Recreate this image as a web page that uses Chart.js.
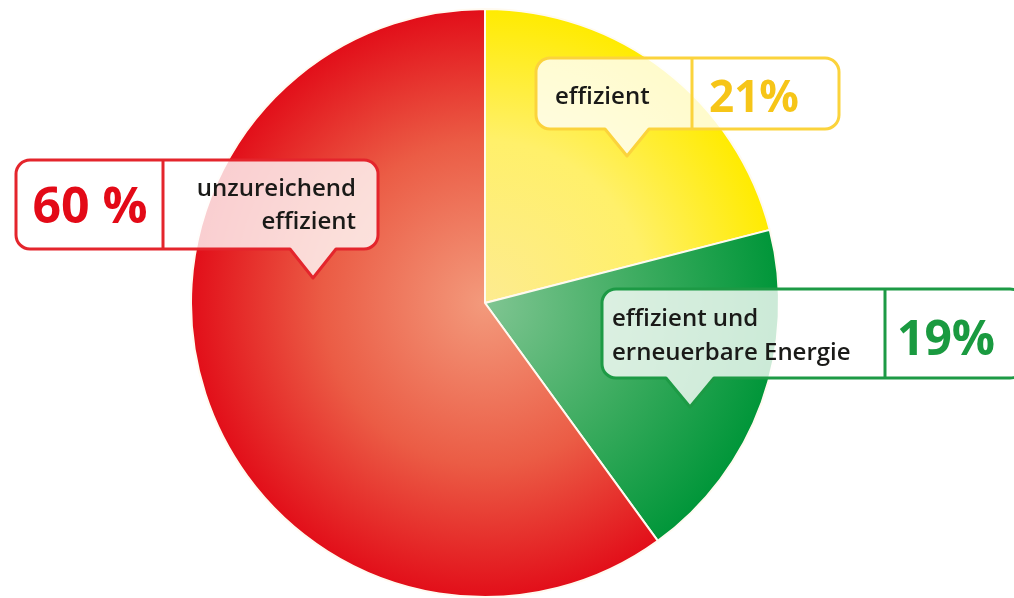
<!DOCTYPE html>
<html>
<head>
<meta charset="utf-8">
<script src="https://cdn.jsdelivr.net/npm/chart.js@4"></script>
<style>
html,body{margin:0;padding:0;background:#fff;}
#wrap{width:1014px;height:598px;position:relative;}
</style>
</head>
<body>
<div id="wrap"><canvas id="c" width="1014" height="598"></canvas></div>
<script>
const categories = ['effizient', 'effizient und erneuerbare Energie', 'unzureichend effizient'];
const shares = [21, 19, 60];
const percentLabels = ['21%', '19%', '60 %'];
const labelLines = [['effizient'], ['effizient und', 'erneuerbare Energie'], ['unzureichend', 'effizient']];

const gradStops = [
  ['#fdeb90', '#fff06a', '#ffeb00'],
  ['#80c592', '#3aab5e', '#009639'],
  ['#f39a7c', '#eb5c45', '#e20e19']
];
const edgeColors = ['#fbd33c', '#1d9a45', '#e4252c'];
const pctColors = ['#f6c518', '#1a9a40', '#e30a17'];

function pieGeom(chart) {
  const a = chart.chartArea;
  return { cx: (a.left + a.right) / 2, cy: (a.top + a.bottom) / 2, r: Math.min(a.right - a.left, a.bottom - a.top) / 2 };
}

function bg(ctx) {
  const chart = ctx.chart;
  const stops = gradStops[ctx.dataIndex];
  if (!chart.chartArea) return stops[2];
  const g = pieGeom(chart);
  const grad = chart.ctx.createRadialGradient(g.cx, g.cy, 0, g.cx, g.cy, g.r);
  grad.addColorStop(0, stops[0]);
  grad.addColorStop(0.55, stops[1]);
  grad.addColorStop(1, stops[2]);
  return grad;
}

// callout layout (box position, divider, pointer)
const callouts = [
  { x: 536, y: 58, w: 303, h: 71, div: 692, px: 627, pw: 44, ph: 27,
    text: { x: 555, align: 'left', base: [104] }, pct: { x: 754, base: 112, size: 44 } },
  { x: 602, y: 289, w: 422, h: 89, div: 885, px: 690, pw: 48, ph: 29,
    text: { x: 612, align: 'left', base: [326, 360] }, pct: { x: 946, base: 355, size: 48 } },
  { x: 16, y: 160, w: 362, h: 89, div: 163, px: 313, pw: 46, ph: 29,
    text: { x: 356, align: 'right', base: [196, 229] }, pct: { x: 90, base: 223, size: 50 } }
];

function calloutPath(c, b) {
  const r = 14;
  const x = b.x, y = b.y, w = b.w, h = b.h;
  c.beginPath();
  c.moveTo(x + r, y);
  c.lineTo(x + w - r, y);
  c.arcTo(x + w, y, x + w, y + r, r);
  c.lineTo(x + w, y + h - r);
  c.arcTo(x + w, y + h, x + w - r, y + h, r);
  c.lineTo(b.px + b.pw / 2, y + h);
  c.lineTo(b.px, y + h + b.ph);
  c.lineTo(b.px - b.pw / 2, y + h);
  c.lineTo(x + r, y + h);
  c.arcTo(x, y + h, x, y + h - r, r);
  c.lineTo(x, y + r);
  c.arcTo(x, y, x + r, y, r);
  c.closePath();
}

const calloutPlugin = {
  id: 'callouts',
  afterDraw(chart) {
    const c = chart.ctx;
    callouts.forEach((b, i) => {
      c.save();
      calloutPath(c, b);
      c.fillStyle = 'rgba(255,255,255,0.8)';
      c.fill();
      c.lineWidth = 3;
      c.strokeStyle = edgeColors[i];
      c.lineJoin = 'round';
      c.stroke();
      c.beginPath();
      c.moveTo(b.div, b.y);
      c.lineTo(b.div, b.y + b.h);
      c.stroke();
      // label text
      c.fillStyle = '#1a1a18';
      c.font = '600 24px "Open Sans"';
      c.textAlign = b.text.align;
      c.textBaseline = 'alphabetic';
      labelLines[i].forEach((ln, k) => c.fillText(ln, b.text.x, b.text.base[k]));
      // percent
      c.fillStyle = pctColors[i];
      c.font = '700 ' + b.pct.size + 'px "Open Sans"';
      c.textAlign = 'center';
      c.fillText(percentLabels[i], b.pct.x, b.pct.base);
      c.restore();
    });
  }
};

new Chart(document.getElementById('c'), {
  type: 'pie',
  data: {
    labels: categories,
    datasets: [{
      data: shares,
      backgroundColor: bg,
      borderColor: '#fffaf0',
      borderWidth: 2,
      hoverOffset: 0
    }]
  },
  options: {
    responsive: false,
    animation: false,
    layout: { padding: { top: 8, bottom: 0, left: 0, right: 44 } },
    plugins: { legend: { display: false }, tooltip: { enabled: false } }
  },
  plugins: [calloutPlugin]
});
</script>
</body>
</html>
